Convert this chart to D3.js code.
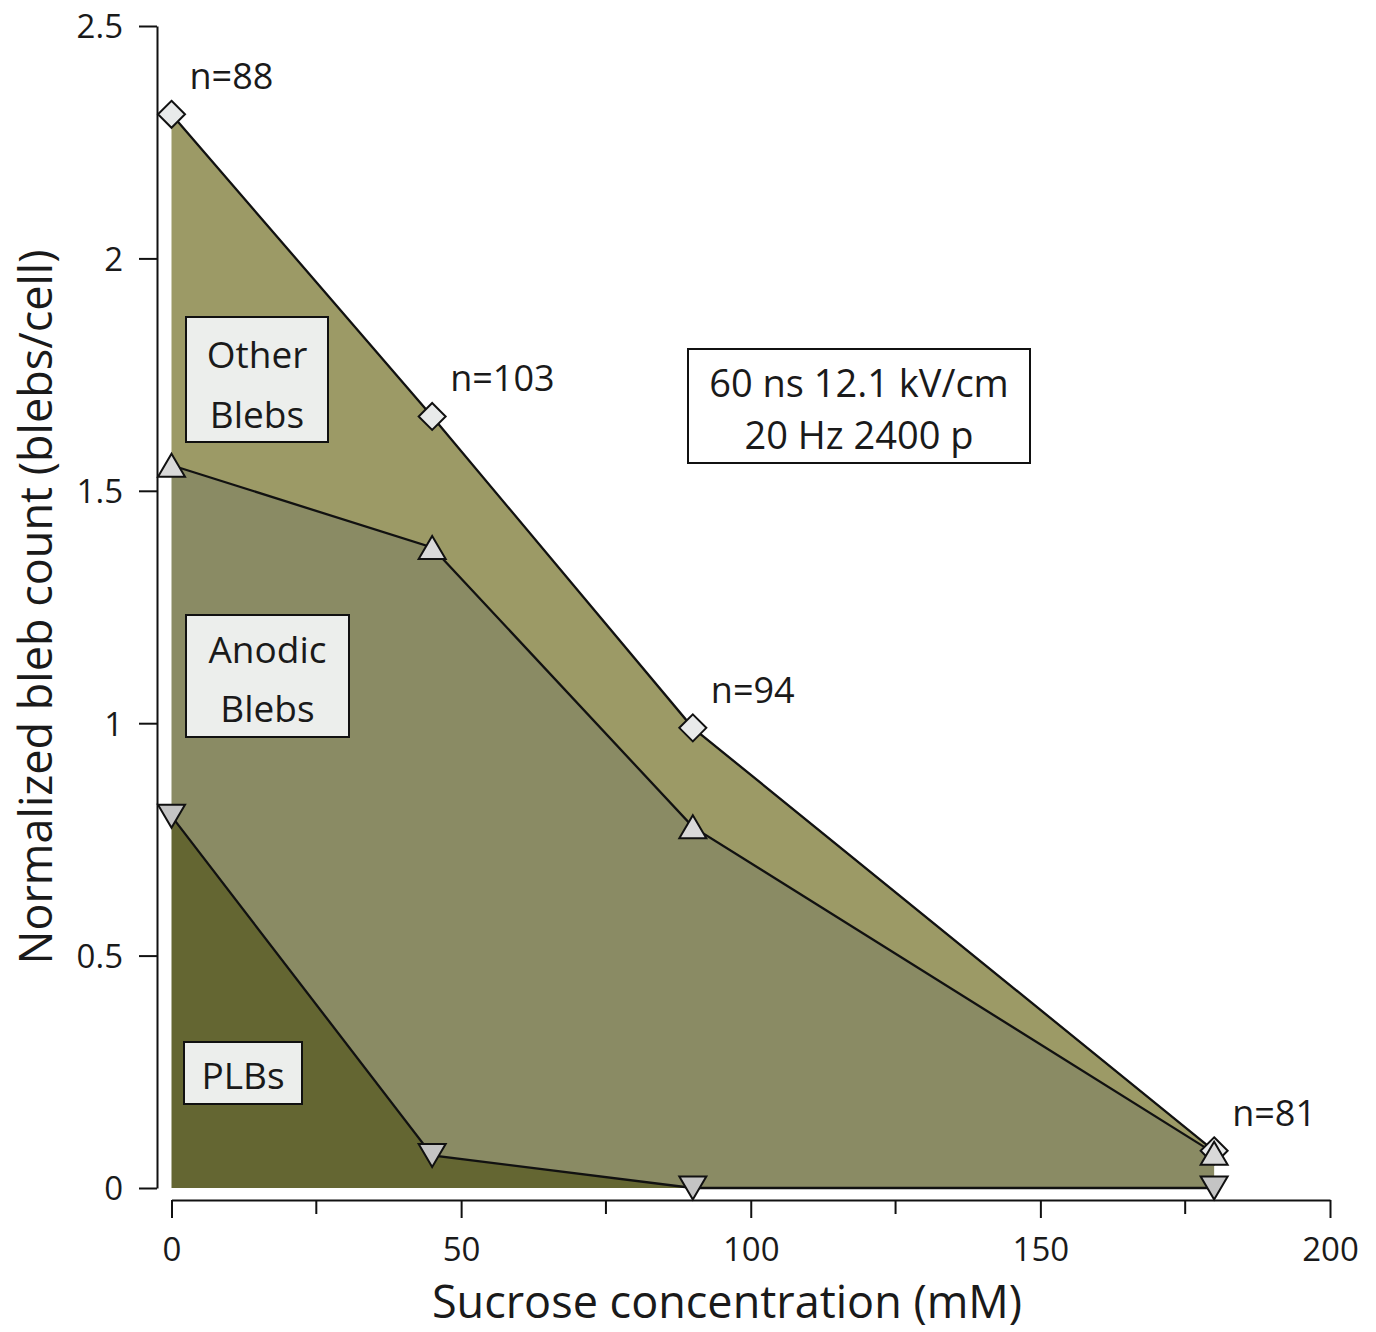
<!DOCTYPE html>
<html>
<head>
<meta charset="utf-8">
<script src="https://cdn.jsdelivr.net/npm/d3@7"></script>
<style>
  body { margin: 0; background: #fff; }
  svg text { font-family: "Open Sans", "Noto Sans", sans-serif; fill: #1a1a1a; }
</style>
</head>
<body>
<svg id="canvas" width="1376" height="1332"></svg>
<script>
// data
var sucrose = [0, 45, 90, 180];
var totalBlebs = [2.31, 1.66, 0.99, 0.08];     // diamonds (other + anodic + PLB)
var anodicBlebs = [1.555, 1.378, 0.777, 0.075]; // up triangles (anodic + PLB)
var plbBlebs = [0.80, 0.07, 0.0, 0.0];          // down triangles (PLB)
var cellCounts = ['n=88', 'n=103', 'n=94', 'n=81'];
var xTicks = [0, 50, 100, 150, 200];
var xMinorTicks = [25, 75, 125, 175];
var yTicks = [0, 0.5, 1, 1.5, 2, 2.5];

var svg = d3.select('#canvas');

var x = d3.scaleLinear().domain([0, 200]).range([171.5, 1330]);
var y = d3.scaleLinear().domain([0, 2.5]).range([1188, 26]);

// ************************************************************************************** //
// Areas

var rows = sucrose.map(function(d, i){
  return { x: d, total: totalBlebs[i], anodic: anodicBlebs[i], plb: plbBlebs[i] };
});

function band(top, bottom){
  return d3.area().x(d => x(d.x)).y0(d => bottom ? y(d[bottom]) : y(0)).y1(d => y(d[top]));
}

svg.append('path').attr('d', band('total', 'anodic')(rows)).attr('fill', '#9c9a66');
svg.append('path').attr('d', band('anodic', 'plb')(rows)).attr('fill', '#8a8b64');
svg.append('path').attr('d', band('plb', null)(rows)).attr('fill', '#646632');

var lineGen = function(key){ return d3.line().x(d => x(d.x)).y(d => y(d[key])); };
['total', 'anodic', 'plb'].forEach(function(k){
  svg.append('path').attr('d', lineGen(k)(rows))
    .attr('fill', 'none').attr('stroke', '#111').attr('stroke-width', 2.3);
});

// ************************************************************************************** //
// Axes

var yAxis = svg.append('g').attr('transform', 'translate(157,0)')
  .call(d3.axisLeft(y).tickValues(yTicks).tickSize(18).tickSizeOuter(0).tickFormat(d3.format('')));
var xAxis = svg.append('g').attr('transform', 'translate(0,1200)')
  .call(d3.axisBottom(x).tickValues(xTicks).tickSize(18).tickSizeOuter(0).tickFormat(d3.format('')));
xAxis.selectAll('.minor').data(xMinorTicks).enter().append('line')
  .attr('x1', d => x(d)).attr('x2', d => x(d)).attr('y1', 0).attr('y2', 14)
  .attr('stroke', '#111').attr('stroke-width', 2);

[yAxis, xAxis].forEach(function(a){
  a.select('.domain').attr('stroke', '#111').attr('stroke-width', 2);
  a.selectAll('.tick line').attr('stroke', '#111').attr('stroke-width', 2);
  a.selectAll('.tick text').attr('font-size', 33).attr('fill', '#1a1a1a')
    .style('font-family', '"Open Sans", sans-serif');
});
yAxis.selectAll('.tick text').attr('x', -34).attr('dy', '0.36em');
xAxis.selectAll('.tick text').attr('y', 38);

svg.append('text').attr('transform', 'translate(52,607) rotate(-90)')
  .attr('text-anchor', 'middle').attr('font-size', 45).text('Normalized bleb count (blebs/cell)');
svg.append('text').attr('x', 727).attr('y', 1318)
  .attr('text-anchor', 'middle').attr('font-size', 45).text('Sucrose concentration (mM)');

// ************************************************************************************** //
// Markers

var diamond = 'M0,-13.5L13.5,0L0,13.5L-13.5,0Z';
var triUp = 'M0,-11.5L13.5,11.5L-13.5,11.5Z';
var triDown = 'M0,11.5L13.5,-11.5L-13.5,-11.5Z';

function markers(key, shape, fill){
  svg.append('g').selectAll('path').data(rows).enter().append('path')
    .attr('d', shape)
    .attr('transform', d => 'translate(' + x(d.x) + ',' + y(d[key]) + ')')
    .attr('fill', fill).attr('stroke', '#111').attr('stroke-width', 2);
}
markers('total', diamond, '#e8eaea');
markers('anodic', triUp, '#d9d9d9');
markers('plb', triDown, '#c4c4c4');

// n labels
svg.append('g').selectAll('text').data(rows).enter().append('text')
  .attr('x', d => x(d.x) + 18).attr('y', d => y(d.total) - 25)
  .attr('font-size', 36).text((d, i) => cellCounts[i]);

// ************************************************************************************** //
// Boxes

function box(bx, by, bw, bh, fill, lines, fs, first, lineGap){
  svg.append('rect').attr('x', bx).attr('y', by).attr('width', bw).attr('height', bh)
    .attr('fill', fill).attr('stroke', '#111').attr('stroke-width', 2);
  lines.forEach(function(t, i){
    svg.append('text').attr('x', bx + bw / 2).attr('y', by + first + i * lineGap)
      .attr('text-anchor', 'middle').attr('font-size', fs).text(t);
  });
}
box(186, 317, 142, 125, '#eceeec', ['Other', 'Blebs'], 37, 51, 60);
box(186, 615, 163, 122, '#eceeec', ['Anodic', 'Blebs'], 37, 48, 59);
box(184, 1042, 118, 62, '#eceeec', ['PLBs'], 37, 47, 0);
box(688, 349, 342, 114, '#ffffff', ['60 ns 12.1 kV/cm', '20 Hz 2400 p'], 38, 48, 52);
</script>
</body>
</html>
